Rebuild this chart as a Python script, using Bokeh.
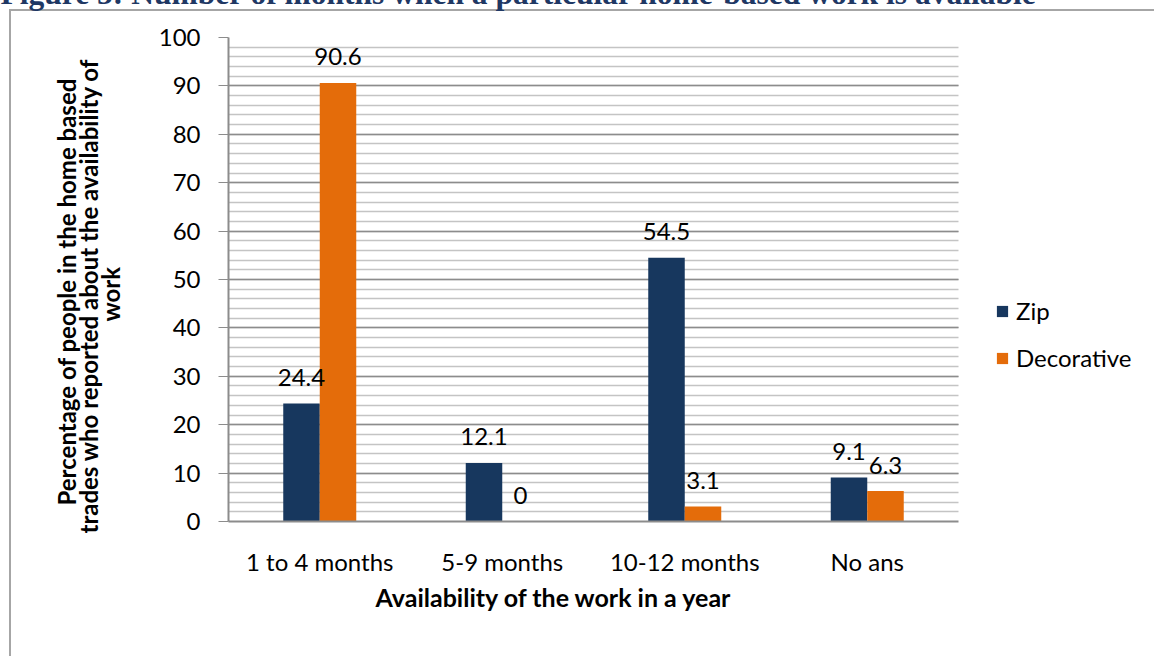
from bokeh.core.properties import value
from bokeh.embed import file_html
from bokeh.resources import INLINE
from bokeh.plotting import figure
from bokeh.models import (ColumnDataSource, Range1d, LabelSet, FixedTicker,
                          Legend, LegendItem, SingleIntervalTicker, Title)

# ---- data -------------------------------------------------------------
categories = ["1 to 4 months", "5-9 months", "10-12 months", "No ans"]
zip_vals = [24.4, 12.1, 54.5, 9.1]
decorative_vals = [90.6, 0, 3.1, 6.3]
series_names = ["Zip", "Decorative"]

title_text = "Figure 5: Number of months when a particular home-based work is available"
y_label_lines = ["Percentage of people in the home based",
                 "trades who reported about the availability of",
                 "work"]
x_label_text = "Availability of the work in a year"

ZIP_COLOR = "#17375E"
DEC_COLOR = "#E46C0A"
GRID_MAJOR = "#8C8C8C"
GRID_MINOR = "#C4C4C4"
BOX_COLOR = "#A6A6A6"
FONT = "Lato"
FS = "24px"

# category slots 1..n on a numeric axis
pos = [i + 1 for i in range(len(categories))]
bw = 0.2

src = ColumnDataSource(dict(
    x_zip=[x - bw / 2 for x in pos],
    x_dec=[x + bw / 2 for x in pos],
    zip=zip_vals,
    dec=decorative_vals,
    zip_txt=[f"{v:g}" for v in zip_vals],
    dec_txt=[f"{v:g}" for v in decorative_vals],
))

# the canvas is pulled up by SHIFT px so the heading runs off the top of the page
SHIFT = 60
W, H = 1154, 656 + SHIFT
FL, FT, FB = 228, 37 + SHIFT, 521 + SHIFT   # frame edges on the canvas
AXIS_RIGHT = 958                            # where the plotted area ends

# the frame runs to the right edge so the legend can sit inside it;
# the category slots only fill the part up to AXIS_RIGHT
x_lo, x_hi = 0.5, len(categories) + 0.5
x_end = x_lo + (x_hi - x_lo) * (W - FL) / (AXIS_RIGHT - FL)

p = figure(width=W, height=H, x_range=Range1d(x_lo, x_end), y_range=Range1d(0, 100),
           output_backend="svg", toolbar_location=None,
           min_border_left=FL, min_border_right=0,
           min_border_top=FT, min_border_bottom=H - FB)
p.margin = (-SHIFT, 0, 0, 0)
p.outline_line_color = None
p.background_fill_color = "white"
p.border_fill_alpha = 0

# thin gray box around the whole chart (its left and top edges are in view)
bx, by = 9, 9 + SHIFT
p.styles = {
    "background": (f"linear-gradient({BOX_COLOR}, {BOX_COLOR}) {bx}px {by}px / 2px 100% no-repeat, "
                   f"linear-gradient({BOX_COLOR}, {BOX_COLOR}) {bx}px {by}px / 100% 2px no-repeat, "
                   "white"),
}

# heading
p.title = Title(text=title_text, align="left", offset=-FL, standoff=53, vertical_align="bottom",
                text_font="Liberation Serif", text_font_style="bold",
                text_font_size="31.5px", text_color="#1F3864")

# bars
r_zip = p.vbar(x="x_zip", top="zip", width=bw, source=src,
               fill_color=ZIP_COLOR, line_color=None)
r_dec = p.vbar(x="x_dec", top="dec", width=bw, source=src,
               fill_color=DEC_COLOR, line_color=None)

# value labels
for xcol, col, txt in (("x_zip", "zip", "zip_txt"), ("x_dec", "dec", "dec_txt")):
    p.add_layout(LabelSet(x=xcol, y=col, text=txt, source=src,
                          y_offset=26, text_align="center", text_baseline="middle",
                          text_font=value(FONT), text_font_size=value(FS),
                          text_color="black"))

# grid, limited to the category slots
p.xgrid.grid_line_color = None
p.ygrid.grid_line_color = GRID_MAJOR
p.ygrid.grid_line_width = 1.5
p.ygrid.minor_grid_line_color = GRID_MINOR
p.ygrid.minor_grid_line_width = 1.5
if hasattr(p.ygrid[0], "cross_bounds"):
    p.ygrid.cross_bounds = (x_lo, x_hi)

# y axis
p.yaxis.ticker = SingleIntervalTicker(interval=10, num_minor_ticks=5)
p.yaxis.axis_line_color = GRID_MAJOR
p.yaxis.axis_line_width = 2
p.yaxis.major_tick_line_color = GRID_MAJOR
p.yaxis.major_tick_out = 10
p.yaxis.major_tick_in = 0
p.yaxis.minor_tick_line_color = None
p.yaxis.major_label_standoff = 18
p.yaxis.major_label_text_font = FONT
p.yaxis.major_label_text_font_size = FS
p.yaxis.major_label_text_color = "black"

# x axis with category names
p.xaxis.bounds = (x_lo, x_hi)
p.xaxis.ticker = FixedTicker(ticks=pos)
p.xaxis.major_label_overrides = {x: c for x, c in zip(pos, categories)}
p.xaxis.axis_line_color = GRID_MAJOR
p.xaxis.axis_line_width = 2
p.xaxis.major_tick_line_color = None
p.xaxis.major_tick_out = 0
p.xaxis.major_tick_in = 0
p.xaxis.minor_tick_line_color = None
p.xaxis.major_label_standoff = 25
p.xaxis.major_label_text_font = FONT
p.xaxis.major_label_text_font_size = FS
p.xaxis.major_label_text_color = "black"

# x axis title
p.add_layout(Title(text=x_label_text, align="left", offset=147, standoff=2,
                   text_font=FONT, text_font_style="bold", text_font_size="25px",
                   text_color="black"), "below")

# three-line y axis title, innermost line first: the inner line reserves the room,
# the two outer lines are pulled in with negative standoffs
y_title_font = dict(text_font=FONT, text_font_style="bold", text_font_size="24px",
                    text_color="black")
for line, so, off in zip(reversed(y_label_lines), (61, -79, -35), (200, -12, 16)):
    p.add_layout(Title(text=line, align="left", offset=off, standoff=so, **y_title_font),
                 "left")

# legend to the right of the plotted area
legend = Legend(items=[LegendItem(label=series_names[0], renderers=[r_zip]),
                       LegendItem(label=series_names[1], renderers=[r_dec])],
                location=(1000 - FL - 5, 521 - 372), orientation="vertical",
                glyph_width=14, glyph_height=14, label_standoff=7, spacing=18,
                label_height=22, padding=0, margin=0,
                border_line_color=None, background_fill_alpha=0,
                label_text_font=FONT, label_text_font_size=FS, label_text_color="black")
p.add_layout(legend, "center")

open("out.html", "w").write(file_html(p, INLINE))
